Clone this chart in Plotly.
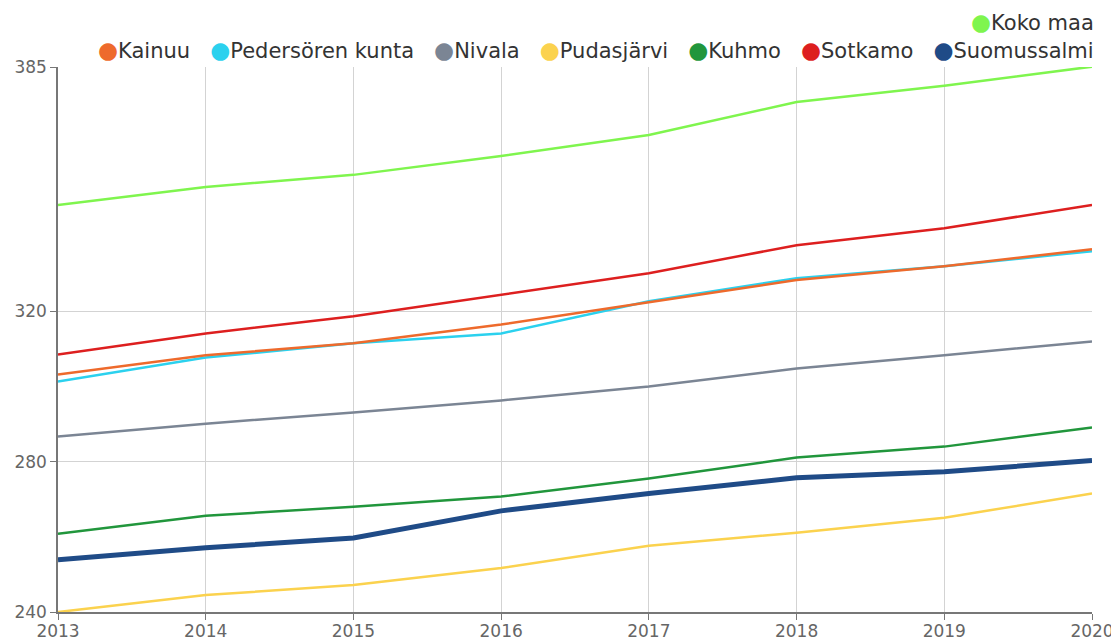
import plotly.graph_objects as go

years = [2013, 2014, 2015, 2016, 2017, 2018, 2019, 2020]

kainuu = [303.2, 308.3, 311.5, 316.5, 322.4, 328.3, 332.0, 336.5]
pedersoren = [301.3, 307.7, 311.5, 314.1, 322.7, 328.8, 332.0, 336.0]
nivala = [286.7, 290.1, 293.1, 296.3, 300.0, 304.8, 308.3, 312.0]
pudasjarvi = [240.0, 244.5, 247.2, 251.7, 257.6, 261.1, 265.1, 271.5]
kuhmo = [260.8, 265.6, 268.0, 270.7, 275.5, 281.1, 284.0, 289.1]
sotkamo = [308.5, 314.1, 318.7, 324.3, 330.1, 337.6, 342.1, 348.3]
suomussalmi = [253.9, 257.1, 259.7, 266.9, 271.5, 275.7, 277.3, 280.3]
koko_maa = [348.3, 353.1, 356.3, 361.3, 366.9, 375.7, 380.0, 385.1]

y_ticks = [240, 280, 320, 385]

series = [
    ("Kainuu", kainuu, "#ee6a2c", 2.5),
    ("Pedersören kunta", pedersoren, "#2bd1ee", 2.5),
    ("Nivala", nivala, "#7b8594", 2.5),
    ("Pudasjärvi", pudasjarvi, "#fbd24e", 2.5),
    ("Kuhmo", kuhmo, "#21963c", 2.5),
    ("Sotkamo", sotkamo, "#dd1f1f", 2.5),
    ("Suomussalmi", suomussalmi, "#1f4b87", 5),
    ("Koko maa", koko_maa, "#7ff54e", 2.5),
]

fig = go.Figure()

# lines, drawn in reverse so that earlier series sit on top
for name, vals, color, w in reversed(series):
    fig.add_trace(go.Scatter(x=years, y=vals, mode="lines", name=name,
                             line=dict(color=color, width=w), showlegend=False))


def entry(name, color):
    return ("<span style='color:%s;font-size:23px'>\u25cf</span>%s" % (color, name))


gap = "\u00a0\u00a0\u00a0"
row2 = gap.join(entry(n, c) for n, v, c, w in series if n != "Koko maa")
row1 = "".join(entry(n, c) for n, v, c, w in series if n == "Koko maa")

for txt, yy in [(row1, 1.082), (row2, 1.032)]:
    fig.add_annotation(text=txt, xref="paper", yref="paper", x=1.004, y=yy,
                       xanchor="right", yanchor="middle", showarrow=False,
                       font=dict(family="DejaVu Sans", size=21, color="#333333"))

# the page body adds an 8px offset, so the figure is sized to compensate
fig.update_layout(
    width=1111, height=633,
    margin=dict(l=50, r=27, t=59, b=29, autoexpand=False),
    paper_bgcolor="white", plot_bgcolor="white",
    showlegend=False,
    font=dict(family="DejaVu Sans", color="#333333"),
    xaxis=dict(range=[2013, 2020], tickvals=years, showgrid=True, gridcolor="#d3d3d3",
               gridwidth=1, showline=True, linecolor="#777777", linewidth=1.5,
               ticks="outside", ticklen=6, tickcolor="#777777", automargin=False,
               ticklabelstandoff=-3,
               tickfont=dict(size=17, color="#666666"), zeroline=False),
    yaxis=dict(range=[240, 385], tickvals=y_ticks, showgrid=True, gridcolor="#d3d3d3",
               gridwidth=1, showline=True, linecolor="#777777", linewidth=1.5,
               ticks="outside", ticklen=6, tickcolor="#777777", automargin=False,
               tickfont=dict(size=17, color="#666666"), zeroline=False),
)

fig.write_html("out.html")
